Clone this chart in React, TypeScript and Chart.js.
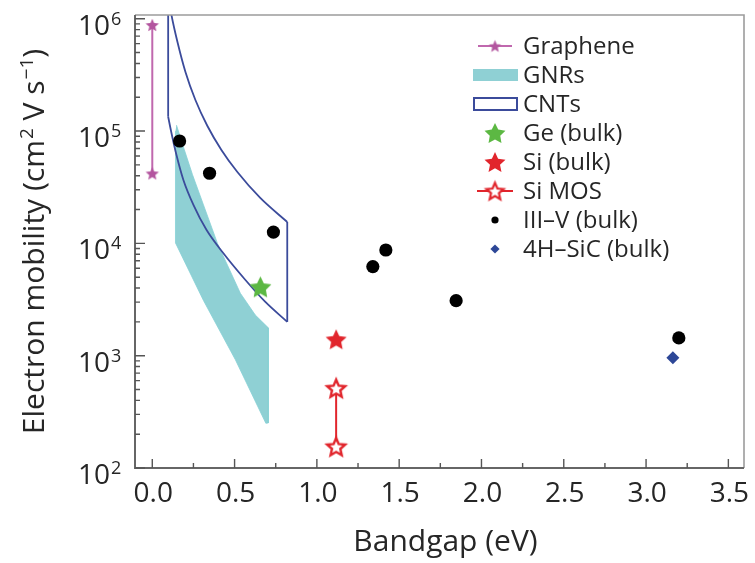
import React, { useEffect, useRef } from 'react';
import { Chart, registerables } from 'chart.js';

Chart.register(...registerables);

// ---------- data ----------
const xRange = [-0.105, 3.595];
const yRange = [100, 1.08e6];

const grapheneX = [0, 0];
const grapheneY = [4.2e4, 8.8e5];

const gnrX = [0.147, 0.195, 0.244, 0.311, 0.396, 0.535, 0.626, 0.705, 0.705, 0.69, 0.505, 0.311, 0.141, 0.141];
const gnrY = [1.13e5, 6.8e4, 4.1e4, 2.2e4, 1.0e4, 3.6e3, 2.3e3, 1.77e3, 252, 250, 920, 3.1e3, 1.01e4, 1.0e5];

// CNT outline, in four pieces
const cntLeftX = [0.0965, 0.0965];
const cntLeftY = [1.5e6, 1.34e5];
const cntLowerX = [0.0965, 0.1165, 0.147, 0.189, 0.25, 0.329, 0.426, 0.566, 0.687, 0.82];
const cntLowerY = [1.34e5, 9.62e4, 6.12e4, 3.67e4, 2.2e4, 1.32e4, 8.38e3, 4.72e3, 3.01e3, 2.0e3];
const cntRightX = [0.82, 0.82];
const cntRightY = [2.0e3, 1.55e4];
const cntUpperX = [0.0995, 0.1165, 0.153, 0.2015, 0.262, 0.335, 0.42, 0.517, 0.656, 0.82];
const cntUpperY = [1.5e6, 1.08e6, 6.21e5, 3.36e5, 1.89e5, 1.11e5, 6.79e4, 4.32e4, 2.54e4, 1.55e4];

const geX = [0.657];
const geY = [4.1e3];

const siX = [1.117];
const siY = [1.4e3];

const siMosX = [1.117, 1.117];
const siMosY = [155, 513];

const iiiVX = [0.166, 0.348, 0.736, 1.34, 1.419, 1.846, 3.199];
const iiiVY = [8.16e4, 4.21e4, 1.26e4, 6.21e3, 8.73e3, 3.09e3, 1.44e3];

const sicX = [3.163];
const sicY = [960];

const legendLabels = ['Graphene', 'GNRs', 'CNTs', 'Ge (bulk)', 'Si (bulk)', 'Si MOS', 'III\u2013V (bulk)', '4H\u2013SiC (bulk)'];

const xTickValues = [0, 0.5, 1, 1.5, 2, 2.5, 3, 3.5];
const xTickLabels = ['0.0', '0.5', '1.0', '1.5', '2.0', '2.5', '3.0', '3.5'];
const yDecades = [2, 3, 4, 5, 6];

const xTitle = 'Bandgap (eV)';
const yTitleParts = [
  { t: 'Electron mobility (cm', sup: false },
  { t: '2', sup: true },
  { t: ' V s', sup: false },
  { t: '\u22121', sup: true },
  { t: ')', sup: false },
];

// ---------- styles ----------
const FONT = "'Open Sans', 'Noto Sans', sans-serif";
const TEXT = '#262626';
const C_GRAPHENE = '#b3559f';
const C_GRAPHENE_LINE = '#c068ae';
const C_GNR = '#8fd0d4';
const C_GNR_EDGE = '#86d0d6';
const C_CNT = '#3b4b9b';
const C_GE = '#5cb843';
const C_SI = '#e1252c';
const C_SIC = '#2d4797';

const pts = (xs: number[], ys: number[]) => xs.map((x, i) => ({ x, y: ys[i] }));

function makeStar(R: number, ratio: number, fill: string, stroke: string | null, lw: number) {
  const size = Math.ceil(2 * R + lw + 4);
  const c = document.createElement('canvas');
  c.width = size;
  c.height = size;
  const g = c.getContext('2d')!;
  const cx = size / 2;
  const cy = size / 2 + 0.0955 * R;
  g.beginPath();
  for (let i = 0; i < 10; i++) {
    const a = -Math.PI / 2 + (i * Math.PI) / 5;
    const rr = i % 2 === 0 ? R : R * ratio;
    const px = cx + rr * Math.cos(a);
    const py = cy + rr * Math.sin(a);
    if (i === 0) g.moveTo(px, py);
    else g.lineTo(px, py);
  }
  g.closePath();
  g.fillStyle = fill;
  g.fill();
  if (stroke) {
    g.lineJoin = 'miter';
    g.strokeStyle = stroke;
    g.lineWidth = lw;
    g.stroke();
  }
  return c;
}

export default function App() {
  const ref = useRef<HTMLCanvasElement | null>(null);

  useEffect(() => {
    const canvas = ref.current;
    if (!canvas) return;

    const starGraphene = makeStar(7, 0.45, C_GRAPHENE, null, 0);
    const starGe = makeStar(11.5, 0.5, C_GE, null, 0);
    const starSi = makeStar(11, 0.48, C_SI, null, 0);
    const starMos = makeStar(9.5, 0.46, '#ffffff', C_SI, 2.4);
    const starGrapheneLeg = makeStar(6.5, 0.45, C_GRAPHENE, null, 0);
    const starGeLeg = makeStar(11, 0.5, C_GE, null, 0);
    const starSiLeg = makeStar(11, 0.48, C_SI, null, 0);
    const starMosLeg = makeStar(9, 0.46, '#ffffff', C_SI, 2.2);

    const decor = {
      id: 'decor',
      afterDraw(chart: any) {
        const { ctx, chartArea: a, scales } = chart;
        const xs = scales.x;
        const ys = scales.y;
        ctx.save();

        // frame
        ctx.lineCap = 'butt';
        ctx.strokeStyle = '#9c9c9c';
        ctx.lineWidth = 1.6;
        ctx.beginPath();
        ctx.moveTo(a.left, a.top);
        ctx.lineTo(a.right, a.top);
        ctx.lineTo(a.right, a.bottom);
        ctx.stroke();
        ctx.strokeStyle = '#666666';
        ctx.lineWidth = 2;
        ctx.beginPath();
        ctx.moveTo(a.left, a.top);
        ctx.lineTo(a.left, a.bottom);
        ctx.lineTo(a.right, a.bottom);
        ctx.stroke();

        // x ticks (major + minor halfway)
        ctx.strokeStyle = '#555555';
        ctx.lineWidth = 1.4;
        ctx.beginPath();
        xTickValues.forEach((v, i) => {
          const px = xs.getPixelForValue(v);
          ctx.moveTo(px, a.bottom);
          ctx.lineTo(px, a.bottom - 9);
          if (i < xTickValues.length - 1) {
            const mv = (v + xTickValues[i + 1]) / 2;
            const mx = xs.getPixelForValue(mv);
            ctx.moveTo(mx, a.bottom);
            ctx.lineTo(mx, a.bottom - 5);
          }
        });
        // y ticks
        yDecades.forEach((d, i) => {
          const base = Math.pow(10, d);
          const py = ys.getPixelForValue(base);
          ctx.moveTo(a.left, py);
          ctx.lineTo(a.left + 10, py);
          if (i < yDecades.length - 1) {
            for (let m = 2; m <= 9; m++) {
              const my = ys.getPixelForValue(m * base);
              ctx.moveTo(a.left, my);
              ctx.lineTo(a.left + 5, my);
            }
          }
        });
        ctx.stroke();

        // x tick labels
        ctx.fillStyle = TEXT;
        ctx.textAlign = 'center';
        ctx.textBaseline = 'alphabetic';
        ctx.font = `28px ${FONT}`;
        xTickValues.forEach((v, i) => {
          ctx.fillText(xTickLabels[i], xs.getPixelForValue(v) + 1, a.bottom + 34);
        });

        // y tick labels 10^n
        yDecades.forEach((d) => {
          const py = ys.getPixelForValue(Math.pow(10, d));
          ctx.textAlign = 'right';
          ctx.font = `28px ${FONT}`;
          ctx.fillText('10', 110, py + 16);
          ctx.textAlign = 'left';
          ctx.font = `18px ${FONT}`;
          ctx.fillText(String(d), 111, py + 6);
        });

        // x title
        ctx.textAlign = 'center';
        ctx.font = `30px ${FONT}`;
        ctx.fillText(xTitle, (a.left + a.right) / 2 + 6, 551);

        // y title
        ctx.save();
        ctx.translate(44, (a.top + a.bottom) / 2);
        ctx.rotate(-Math.PI / 2);
        ctx.textAlign = 'left';
        const big = `30px ${FONT}`;
        const small = `19px ${FONT}`;
        let total = 0;
        yTitleParts.forEach((p) => {
          ctx.font = p.sup ? small : big;
          total += ctx.measureText(p.t).width + (p.sup ? 1 : 0);
        });
        let cx = -total / 2;
        yTitleParts.forEach((p) => {
          ctx.font = p.sup ? small : big;
          ctx.fillText(p.t, cx + (p.sup ? 1 : 0), p.sup ? -11 : 0);
          cx += ctx.measureText(p.t).width + (p.sup ? 1 : 0);
        });
        ctx.restore();

        // legend
        const symX = 495;
        const textX = 523;
        const rowTop = 46;
        const rowGap = 29;
        ctx.font = `24px ${FONT}`;
        ctx.textAlign = 'left';
        legendLabels.forEach((label, i) => {
          const y = rowTop + i * rowGap;
          const img = (c: HTMLCanvasElement) => ctx.drawImage(c, symX - c.width / 2, y - c.height / 2);
          if (i === 0) {
            ctx.strokeStyle = C_GRAPHENE_LINE;
            ctx.lineWidth = 2;
            ctx.beginPath();
            ctx.moveTo(symX - 17, y);
            ctx.lineTo(symX + 17, y);
            ctx.stroke();
            img(starGrapheneLeg);
          } else if (i === 1) {
            ctx.fillStyle = C_GNR;
            ctx.fillRect(symX - 22, y - 6, 45, 12);
          } else if (i === 2) {
            ctx.strokeStyle = C_CNT;
            ctx.lineWidth = 2;
            ctx.strokeRect(symX - 21, y - 6, 43, 12);
          } else if (i === 3) {
            img(starGeLeg);
          } else if (i === 4) {
            img(starSiLeg);
          } else if (i === 5) {
            ctx.strokeStyle = C_SI;
            ctx.lineWidth = 2;
            ctx.beginPath();
            ctx.moveTo(symX - 18, y);
            ctx.lineTo(symX + 18, y);
            ctx.stroke();
            img(starMosLeg);
          } else if (i === 6) {
            ctx.fillStyle = '#000';
            ctx.beginPath();
            ctx.arc(symX, y, 3.6, 0, Math.PI * 2);
            ctx.fill();
          } else if (i === 7) {
            ctx.fillStyle = C_SIC;
            ctx.beginPath();
            ctx.moveTo(symX, y - 4.6);
            ctx.lineTo(symX + 4.6, y);
            ctx.lineTo(symX, y + 4.6);
            ctx.lineTo(symX - 4.6, y);
            ctx.closePath();
            ctx.fill();
          }
          ctx.fillStyle = TEXT;
          ctx.fillText(label, textX, y + 8);
        });

        ctx.restore();
      },
    };

    const cntStyle = {
      showLine: true,
      borderColor: C_CNT,
      borderWidth: 1.8,
      pointRadius: 0,
      fill: false,
      clip: 0,
    };

    const chart = new Chart(canvas, {
      type: 'line',
      data: {
        datasets: [
          {
            label: legendLabels[6],
            data: pts(iiiVX, iiiVY),
            showLine: false,
            pointStyle: 'circle',
            pointRadius: 6.6,
            pointBackgroundColor: '#000',
            pointBorderWidth: 0,
            borderColor: '#000',
          },
          {
            label: legendLabels[7],
            data: pts(sicX, sicY),
            showLine: false,
            pointStyle: 'rectRot',
            pointRadius: 6.5,
            pointBackgroundColor: C_SIC,
            pointBorderWidth: 0,
            borderColor: C_SIC,
          },
          {
            label: legendLabels[3],
            data: pts(geX, geY),
            showLine: false,
            pointStyle: starGe as any,
            pointRadius: 10,
          },
          {
            label: legendLabels[4],
            data: pts(siX, siY),
            showLine: false,
            pointStyle: starSi as any,
            pointRadius: 10,
          },
          {
            label: legendLabels[5],
            data: pts(siMosX, siMosY),
            showLine: true,
            borderColor: C_SI,
            borderWidth: 2,
            pointStyle: starMos as any,
            pointRadius: 9,
            fill: false,
          },
          {
            label: legendLabels[0],
            data: pts(grapheneX, grapheneY),
            showLine: true,
            borderColor: C_GRAPHENE_LINE,
            borderWidth: 2,
            pointStyle: starGraphene as any,
            pointRadius: 7,
            fill: false,
          },
          { label: legendLabels[2], data: pts(cntLeftX, cntLeftY), ...cntStyle } as any,
          { label: legendLabels[2], data: pts(cntLowerX, cntLowerY), cubicInterpolationMode: 'monotone', ...cntStyle } as any,
          { label: legendLabels[2], data: pts(cntRightX, cntRightY), ...cntStyle } as any,
          { label: legendLabels[2], data: pts(cntUpperX, cntUpperY), cubicInterpolationMode: 'monotone', ...cntStyle } as any,
          {
            label: legendLabels[1],
            data: pts(gnrX, gnrY),
            showLine: true,
            borderColor: C_GNR_EDGE,
            borderWidth: 0.8,
            backgroundColor: C_GNR,
            pointRadius: 0,
            fill: 'shape',
            tension: 0,
          } as any,
        ],
      },
      options: {
        animation: false,
        responsive: false,
        devicePixelRatio: 1,
        layout: { padding: { top: 15, right: 10, left: 0, bottom: 0 } },
        plugins: {
          legend: { display: false },
          tooltip: { enabled: false },
          title: { display: false },
        },
        events: [],
        scales: {
          x: {
            type: 'linear',
            min: xRange[0],
            max: xRange[1],
            grid: { display: false },
            border: { display: false },
            ticks: { display: false },
            afterFit: (s: any) => {
              s.height = 95;
            },
          },
          y: {
            type: 'logarithmic',
            min: yRange[0],
            max: yRange[1],
            grid: { display: false },
            border: { display: false },
            ticks: { display: false },
            afterFit: (s: any) => {
              s.width = 135;
            },
          },
        },
      } as any,
      plugins: [decor],
    });

    return () => chart.destroy();
  }, []);

  return (
    <div style={{ position: 'absolute', left: 0, top: 0, width: 755, height: 563, background: '#fff' }}>
      <canvas ref={ref} width={755} height={563} style={{ display: 'block' }} />
    </div>
  );
}
